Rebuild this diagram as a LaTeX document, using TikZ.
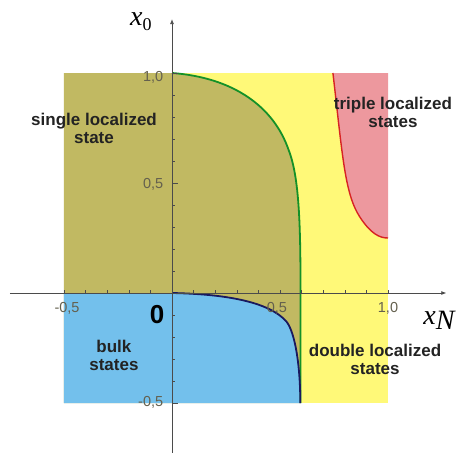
\documentclass[tikz,border=0pt]{standalone}
\usepackage{fontspec}
\setmainfont{Liberation Sans}
\newfontfamily\serifit{Liberation Serif}
\usetikzlibrary{arrows.meta}
\definecolor{olivefill}{RGB}{193,185,98}
\definecolor{yellowfill}{RGB}{255,249,120}
\definecolor{bluefill}{RGB}{115,192,236}
\definecolor{pinkfill}{RGB}{237,152,158}
\definecolor{greenline}{RGB}{20,145,40}
\definecolor{navyline}{RGB}{25,25,95}
\definecolor{redline}{RGB}{215,35,35}
\definecolor{axisgray}{RGB}{75,75,75}
\definecolor{ticklab}{RGB}{100,96,78}
\definecolor{regtext}{RGB}{35,35,35}
\tikzset{
  region/.style={align=center,text=regtext,font=\fontsize{17}{18}\selectfont\bfseries,inner sep=0pt},
  ticklabel/.style={text=ticklab,font=\fontsize{14.5}{14.5}\selectfont,inner sep=0pt},
  axisline/.style={draw=axisgray,line width=0.8pt,-{Latex[length=5pt,width=4pt]}},
  tickmark/.style={draw=axisgray,line width=0.6pt},
  axislabel/.style={inner sep=0pt,text=black}
}
\def\greencurve{(0,1) .. controls (0.28,0.98) and (0.47,0.85) .. (0.54,0.65) .. controls (0.59,0.525) and (0.595,0.3) .. (0.595,0)}
\def\bluecurve{(0,0) .. controls (0.25,-0.005) and (0.45,-0.04) .. (0.53,-0.13) .. controls (0.57,-0.18) and (0.594,-0.33) .. (0.594,-0.5)}
\def\redcurve{(0.745,1) .. controls (0.79,0.62) and (0.80,0.45) .. (0.87,0.345) .. controls (0.92,0.27) and (0.96,0.25) .. (1,0.25)}
\begin{document}
\begin{tikzpicture}[x=216pt,y=220pt]
\useasboundingbox (-0.79630,-0.73182) rectangle (1.31481,1.33182);
\clip (-0.79630,-0.73182) rectangle (1.31481,1.33182);
% yellow base
\fill[yellowfill] (-0.5,-0.5) rectangle (1,1);
% olive region
\fill[olivefill] (-0.5,1) -- \greencurve -- (0.595,-0.5) -- (-0.5,-0.5) -- cycle;
% blue region
\fill[bluefill] (-0.5,0) -- \bluecurve -- (-0.5,-0.5) -- cycle;
% pink region
\fill[pinkfill] \redcurve -- (1,1) -- cycle;
% boundary lines
\draw[greenline,line width=1.8pt] \greencurve -- (0.595,-0.5);
\draw[navyline,line width=1.8pt] \bluecurve;
\draw[redline,line width=1.4pt] \redcurve;
% axes
\coordinate (xs) at (-0.75,0);
\coordinate (xe) at (1.27,0);
\coordinate (ys) at (0,-0.725);
\coordinate (ye) at (0,1.245);
\draw[axisline] (xs) -- (xe);
\draw[axisline] (ys) -- (ye);
% ticks
\foreach \v in {-0.5,-0.4,...,1.01} {
  \draw[tickmark] (\v,0) -- ++(0,3.5pt);
}
\foreach \v in {-0.4,-0.3,-0.2,-0.1,0.1,0.2,0.3,0.4,0.6,0.7,0.8,0.9} {
  \draw[tickmark] (0,\v) -- ++(3pt,0);
}
\foreach \v in {-0.5,0.5,1.0} {
  \draw[tickmark] (0,\v) -- ++(6pt,0);
}
% tick labels
\node[ticklabel,anchor=east] (ly1) at (-0.04,0.982) {1,0};
\node[ticklabel,anchor=east] (ly05) at (-0.04,0.495) {0,5};
\node[ticklabel,anchor=east] (lym05) at (-0.04,-0.495) {-0,5};
\node[ticklabel] (lxm05) at (-0.486,-0.068) {-0,5};
\node[ticklabel] (lx05) at (0.486,-0.068) {0,5};
\node[ticklabel] (lx1) at (1.0,-0.068) {1,0};
\node[inner sep=0pt,text=black,font=\fontsize{26}{26}\selectfont\bfseries] (zero) at (-0.069,-0.1) {0};
% axis labels
\node[axislabel,anchor=base west] (x0lab) at (-0.195,1.215) {\fontsize{28}{28}\serifit\itshape x\fontsize{18}{18}\upshape\raisebox{-5pt}{0}};
\node[axislabel,anchor=base west] (xNlab) at (1.163,-0.145) {\fontsize{28}{28}\serifit\itshape x\fontsize{15}{15}\raisebox{-5pt}{N}};
% region labels
\node[region] (single) at (-0.361,0.75) {single localized\\state};
\node[region] (triple) at (1.023,0.82) {triple localized\\states};
\node[region] (bulk) at (-0.269,-0.284) {bulk\\states};
\node[region] (double) at (0.94,-0.302) {double localized\\states};
\end{tikzpicture}
\end{document}
